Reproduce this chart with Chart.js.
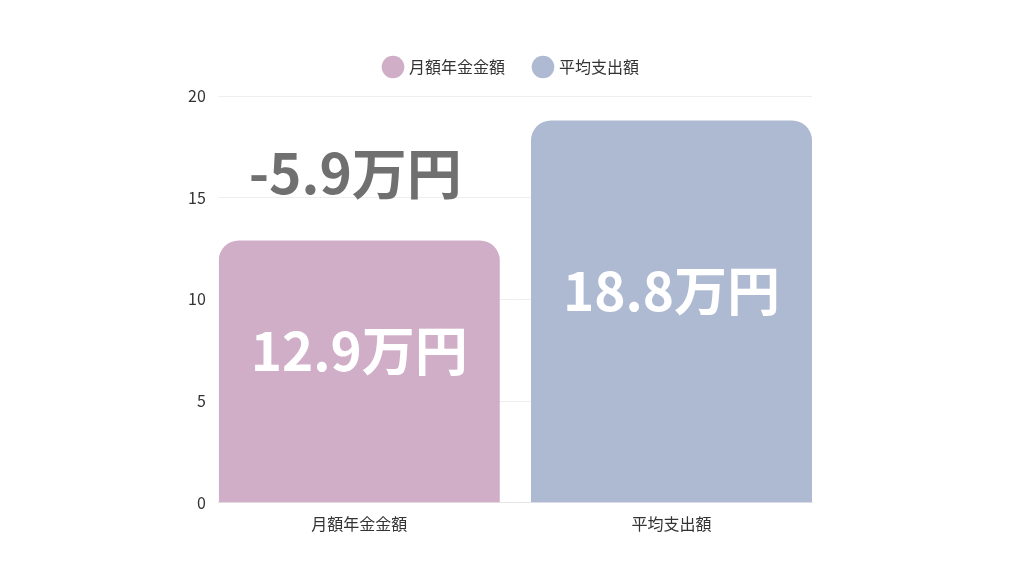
<!DOCTYPE html>
<html>
<head>
<meta charset="utf-8">
<script src="https://cdn.jsdelivr.net/npm/chart.js"></script>
<style>
  html, body { margin: 0; padding: 0; background: #ffffff; }
  #wrap { width: 1024px; height: 576px; position: relative; }
</style>
</head>
<body>
<div id="wrap"><canvas id="pensionChart"></canvas></div>
<script>
// categories and values (万円)
const categories = ['月額年金金額', '平均支出額'];
const pensionValues = [12.9];
const spendingValues = [18.8];
const diffLabel = '-5.9万円';
const diffAt = 16.2; // y value where the difference text sits
const yTicks = [0, 5, 10, 15, 20];

const font = '"Noto Sans CJK JP", "Noto Sans", sans-serif';

// draws the big value labels inside the bars and the difference text
const valueLabels = {
    id: 'valueLabels',
    afterDatasetsDraw(chart) {
        const ctx = chart.ctx;
        const y = chart.scales.y;
        ctx.save();
        ctx.textAlign = 'center';
        ctx.textBaseline = 'middle';
        ctx.font = 'bold 53px ' + font;
        ctx.fillStyle = '#ffffff';
        chart.data.datasets.forEach((ds, i) => {
            chart.getDatasetMeta(i).data.forEach((bar, j) => {
                const v = ds.data[j].y;
                const mid = (bar.y + bar.base) / 2 - 20;
                ctx.fillText(v + '万円', bar.x, mid);
            });
        });
        const first = chart.getDatasetMeta(0).data[0];
        ctx.font = 'bold 55px ' + font;
        ctx.fillStyle = '#707070';
        ctx.fillText(diffLabel, first.x - 4, y.getPixelForValue(diffAt));
        ctx.restore();
    }
};

// empty axes used only as spacers so the legend stays centred on the page
const spacer = (size, horizontal) => ({
    type: 'linear',
    display: true,
    position: horizontal ? 'top' : 'right',
    grid: { display: false },
    border: { display: false },
    ticks: { display: false },
    afterFit(axis) {
        if (horizontal) axis.height = size; else axis.width = size;
    }
});

const ctx = document.getElementById('pensionChart').getContext('2d');

const chart = new Chart(ctx, {
    type: 'bar',
    data: {
        datasets: [
            {
                label: '月額年金金額',
                data: pensionValues.map(v => ({ x: 0, y: v })),
                backgroundColor: '#d0aec8',
                borderRadius: { topLeft: 20, topRight: 20 },
                borderSkipped: 'bottom',
                barPercentage: 0.9,
                categoryPercentage: 1.0
            },
            {
                label: '平均支出額',
                data: spendingValues.map(v => ({ x: 1, y: v })),
                backgroundColor: '#aeb9d2',
                borderRadius: { topLeft: 20, topRight: 20 },
                borderSkipped: 'bottom',
                barPercentage: 0.9,
                categoryPercentage: 1.0
            }
        ]
    },
    options: {
        responsive: true,
        maintainAspectRatio: false,
        animation: false,
        grouped: false,
        layout: {
            padding: { left: 175, right: 175, top: 29, bottom: 38 }
        },
        plugins: {
            legend: {
                display: true,
                position: 'top',
                labels: {
                    usePointStyle: true,
                    pointStyle: 'circle',
                    boxWidth: 16,
                    boxHeight: 16,
                    padding: 30,
                    color: '#333333',
                    font: { family: font, size: 16 }
                }
            },
            tooltip: { enabled: false }
        },
        scales: {
            x: {
                type: 'linear',
                offset: false,
                min: -0.45,
                max: 1.45,
                afterBuildTicks(axis) {
                    axis.ticks = categories.map((c, i) => ({ value: i }));
                },
                grid: { display: false },
                border: { color: '#e5e5e5' },
                ticks: {
                    color: '#333333',
                    padding: 4,
                    font: { family: font, size: 16 },
                    callback: v => categories[v]
                }
            },
            y: {
                min: 0,
                max: 20,
                afterBuildTicks(axis) {
                    axis.ticks = yTicks.map(v => ({ value: v }));
                },
                grid: { color: '#eeeeee', drawTicks: false },
                border: { display: false },
                ticks: {
                    color: '#333333',
                    padding: 13,
                    font: { family: font, size: 16 }
                }
            },
            padRight: spacer(37, false),
            padTop: spacer(11, true)
        }
    },
    plugins: [valueLabels]
});
</script>
</body>
</html>
